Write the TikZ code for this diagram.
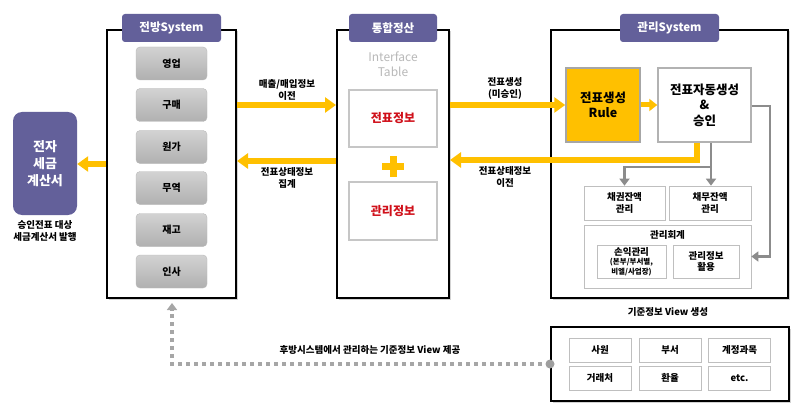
\documentclass[tikz,border=0pt]{standalone}
\usepackage{fontspec}
\setmainfont{Noto Sans CJK KR}
\usetikzlibrary{arrows.meta,shadows,calc}
\definecolor{tabpurple}{HTML}{63609A}
\definecolor{ylw}{HTML}{FFC000}
\definecolor{redtxt}{HTML}{D0101A}
\tikzset{
  mainbox/.style={draw=black, line width=2pt, fill=white, drop shadow={opacity=0.35, shadow xshift=1.5pt, shadow yshift=-1.5pt}},
  tabbox/.style={fill=tabpurple, rounded corners=3pt, text=white, font=\bfseries\fontsize{11.5}{12}\selectfont, inner sep=0pt},
  dept/.style={draw=gray!55, rounded corners=4pt, top color=gray!35, bottom color=gray!62, font=\bfseries\fontsize{10}{11}\selectfont, minimum width=71pt, minimum height=33pt, inner sep=0pt},
  whitebox/.style={draw=gray!45, line width=1.5pt, fill=white, inner sep=0pt, drop shadow={opacity=0.2, shadow xshift=1pt, shadow yshift=-1pt}},
  smallbox/.style={draw=gray!50, line width=0.7pt, fill=white, inner sep=0pt, align=center, font=\bfseries\fontsize{9.5}{11.5}\selectfont},
  lbl/.style={align=center, font=\bfseries\fontsize{9.5}{12}\selectfont, inner sep=0pt},
  yarrow/.style={draw=ylw, line width=6pt, -{Triangle[width=15pt,length=11pt]}},
  garrow/.style={draw=black!45, line width=2.6pt, -{Triangle[width=10pt,length=7pt]}},
}
\begin{document}
\begin{tikzpicture}[x=1pt,y=-1pt]
\useasboundingbox (0,0) rectangle (800,409);

% ---------- front system ----------
\node[mainbox, minimum width=129pt, minimum height=268pt] (front) at (171.5,164) {};
\node[tabbox, minimum width=99pt, minimum height=28pt] (fronttab) at (171.5,28) {전방System};
\node[dept] (d1) at (171.5,63.5) {영업};
\node[dept] (d2) at (171.5,105) {구매};
\node[dept] (d3) at (171.5,147) {원가};
\node[dept] (d4) at (171.5,188) {무역};
\node[dept] (d5) at (171.5,230) {재고};
\node[dept] (d6) at (171.5,271.5) {인사};

% ---------- e-tax ----------
\node[fill=tabpurple, rounded corners=9pt, minimum width=64pt, minimum height=103pt, text=white, align=center, inner sep=0pt,
      font=\bfseries\fontsize{13}{17}\selectfont] (etax) at (45,163.5) {전자\\세금\\계산서};
\node[lbl] (etaxcap) at (45,231) {승인전표 대상\\세금계산서 발행};

% ---------- middle ----------
\node[mainbox, minimum width=112pt, minimum height=268pt] (mid) at (393,164) {};
\node[tabbox, minimum width=88pt, minimum height=28pt] (midtab) at (393,28) {통합정산};
\node[align=center, text=gray!55, font=\fontsize{12}{15}\selectfont, inner sep=0pt] (itab) at (393,64.5) {Interface\\Table};
\node[whitebox, minimum width=88pt, minimum height=57pt, text=redtxt, font=\bfseries\fontsize{12}{13}\selectfont] (jp) at (393,118.5) {전표정보};
\node[whitebox, minimum width=88pt, minimum height=58pt, text=redtxt, font=\bfseries\fontsize{12}{13}\selectfont] (gj) at (393,211) {관리정보};
\fill[ylw] (382,163) rectangle (404,170);
\fill[ylw] (389.5,156) rectangle (396.5,177);

% ---------- arrows left ----------
\draw[yarrow] (front.east |- 0,105) -- (mid.west |- 0,105);
\node[lbl] (l1) at (287,90) {매출/매입정보\\이전};
\draw[yarrow] (mid.west |- 0,161) -- (front.east |- 0,161);
\node[lbl] (l2) at (287,178) {전표상태정보\\집계};
\draw[yarrow] (front.west |- 0,164) -- (etax.east |- 0,164);

% ---------- management system ----------
\node[mainbox, minimum width=237pt, minimum height=268pt] (mgmt) at (669.5,164) {};
\node[tabbox, minimum width=99pt, minimum height=28pt] (mgmttab) at (669.5,28) {관리System};
\node[draw=gray!70, line width=1.5pt, fill=ylw, minimum width=74pt, minimum height=74pt, align=center, inner sep=0pt,
      font=\bfseries\fontsize{12.5}{15.5}\selectfont] (rule) at (603,105) {전표생성\\Rule};
\node[whitebox, draw=gray!60, minimum width=93pt, minimum height=74pt, align=center,
      font=\bfseries\fontsize{12.5}{15.5}\selectfont] (auto) at (704.5,105) {전표자동생성\\\&\\승인};

\draw[yarrow] (mid.east |- rule) -- (rule.west);
\node[lbl] (l3) at (505,88) {전표생성\\(미승인)};
\draw[draw=ylw, line width=5pt, -{Triangle[width=12pt,length=8pt]}] (rule.east) -- (auto.west);

\coordinate (ysplit) at (697,160);
\draw[yarrow] (auto.south -| ysplit) -- (ysplit) -- (mid.east |- ysplit);
\node[lbl] (l4) at (505,177) {전표상태정보\\이전};

\node[smallbox, minimum width=81pt, minimum height=34pt] (ckw) at (624.5,203) {채권잔액\\관리};
\node[smallbox, minimum width=82pt, minimum height=34pt] (cmu) at (710,203) {채무잔액\\관리};
\node[smallbox, minimum width=167pt, minimum height=63pt] (macc) at (667.5,256.5) {};
\node[lbl] (macct) at (667.5,235) {관리회계};
\node[smallbox, minimum width=69pt, minimum height=33pt] (sonik) at (631.5,261.5)
  {손익관리\\[-2pt]{\fontsize{7.5}{8.5}\selectfont (본부/부서별,}\\[-2pt]{\fontsize{7.5}{8.5}\selectfont 비엘/사업장)}};
\node[smallbox, minimum width=66pt, minimum height=33pt] (hwal) at (706,261.5) {관리정보\\활용};

\coordinate (gsplit) at (711,167);
\draw[draw=black!45, line width=2.6pt] (auto.south -| gsplit) -- (gsplit);
\draw[garrow] (gsplit) -- (cmu.north -| gsplit);
\draw[garrow] (gsplit) -- (ckw.north |- gsplit) -- (ckw.north);
\coordinate (gright) at (770,106);
\draw[garrow] (auto.east |- gright) -- (gright) -- (gright |- macc.east) -- (macc.east);

% ---------- bottom ----------
\node[lbl] (viewgen) at (668,312) {기준정보 View 생성};
\node[mainbox, minimum width=238pt, minimum height=74pt] (base) at (670,364) {};
\node[smallbox, minimum width=62pt, minimum height=24pt] (b1) at (600,350) {사원};
\node[smallbox, minimum width=62pt, minimum height=24pt] (b2) at (670,350) {부서};
\node[smallbox, minimum width=62pt, minimum height=24pt] (b3) at (739.5,350) {계정과목};
\node[smallbox, minimum width=62pt, minimum height=24pt] (b4) at (600,378) {거래처};
\node[smallbox, minimum width=62pt, minimum height=24pt] (b5) at (670,378) {환율};
\node[smallbox, minimum width=62pt, minimum height=24pt] (b6) at (739.5,378) {etc.};

\coordinate (dcorner) at (172,364);
\draw[black!35, line width=4pt, dash pattern=on 4pt off 4pt, -{Triangle[width=10pt,length=7pt]}]
  (base.west) -- (dcorner) -- ($(front.south -| dcorner)+(0,4)$);
\fill[black!38] (base.west) circle (4.5pt);
\node[lbl] (l5) at (370,350) {후방시스템에서 관리하는 기준정보 View 제공};
\end{tikzpicture}
\end{document}
